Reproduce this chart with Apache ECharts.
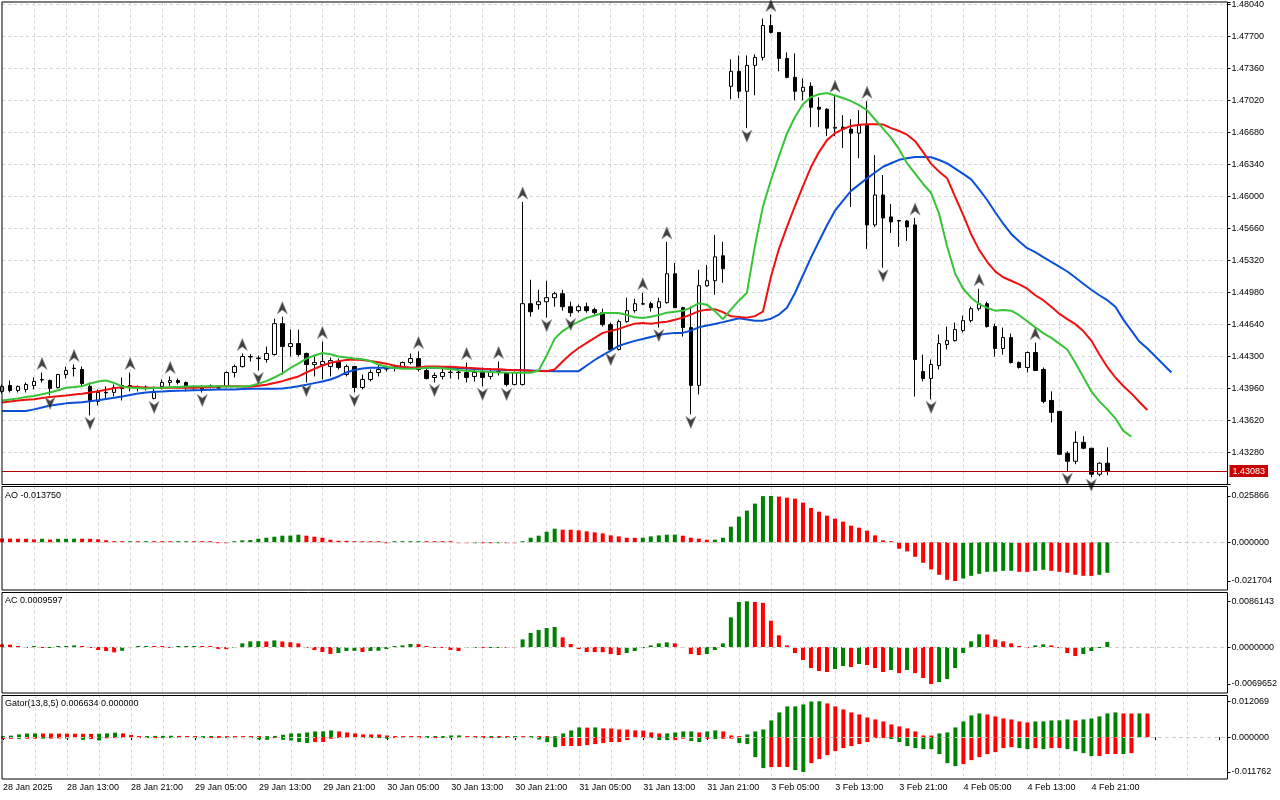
<!DOCTYPE html>
<html><head><meta charset="utf-8">
<script src="https://cdn.jsdelivr.net/npm/echarts@6/dist/echarts.min.js"></script>
<style>html,body{margin:0;padding:0;background:#fff}#c{width:1280px;height:800px}</style>
</head><body><div id="c"></div>
<script>
// ---------- tick labels (every 8 bars) ----------
const xLabels = ['28 Jan 2025','28 Jan 13:00','28 Jan 21:00','29 Jan 05:00','29 Jan 13:00','29 Jan 21:00','30 Jan 05:00','30 Jan 13:00','30 Jan 21:00','31 Jan 05:00','31 Jan 13:00','31 Jan 21:00','3 Feb 05:00','3 Feb 13:00','3 Feb 21:00','4 Feb 05:00','4 Feb 13:00','4 Feb 21:00'];
const slotCount = 154;

// ---------- H1 candles ----------
const open = [1.43929,1.43992,1.43939,1.43950,1.43992,1.44050,1.44045,1.43971,1.44109,1.44172,
1.44162,1.43982,1.43823,1.43913,1.43918,1.43992,1.43992,1.43971,1.43976,1.43855,
1.43982,1.44024,1.44045,1.44024,1.43976,1.43971,1.43982,1.43966,1.43982,1.44130,
1.44193,1.44300,1.44278,1.44268,1.44321,1.44649,1.44406,1.44437,1.44332,1.44215,
1.44215,1.44194,1.44247,1.44109,1.44193,1.43971,1.44056,1.44130,1.44172,1.44183,
1.44193,1.44236,1.44278,1.44151,1.44077,1.44088,1.44130,1.44134,1.44130,1.44088,
1.44130,1.44088,1.44136,1.44120,1.44003,1.44003,1.44861,1.44851,1.44882,1.44925,
1.44967,1.44829,1.44787,1.44829,1.44798,1.44766,1.44639,1.44374,1.44671,1.44787,
1.44856,1.44861,1.44819,1.44872,1.45179,1.44819,1.44607,1.43993,1.45052,1.45105,
1.45370,1.47171,1.47330,1.47118,1.47393,1.47478,1.47817,1.47743,1.47467,1.47266,
1.47118,1.47171,1.46948,1.46927,1.46726,1.46736,1.46715,1.46673,1.46758,1.45698,
1.46016,1.45783,1.45744,1.45740,1.45698,1.44141,1.44066,1.44204,1.44427,1.44469,
1.44575,1.44681,1.44808,1.44861,1.44618,1.44385,1.44501,1.44236,1.44183,1.44342,
1.44162,1.43833,1.43717,1.43272,1.43187,1.43388,1.43325,1.43049,1.43166];
const close = [1.43982,1.43939,1.43982,1.44003,1.44035,1.44056,1.43960,1.44109,1.44151,1.44175,
1.44013,1.43833,1.43918,1.43918,1.43971,1.43960,1.43971,1.43975,1.43960,1.43918,
1.44024,1.44045,1.44024,1.43982,1.43971,1.43950,1.43987,1.43971,1.44130,1.44193,
1.44300,1.44295,1.44284,1.44332,1.44649,1.44406,1.44437,1.44321,1.44215,1.44236,
1.44247,1.44257,1.44183,1.44193,1.43971,1.44056,1.44130,1.44162,1.44167,1.44186,
1.44236,1.44278,1.44162,1.44067,1.44098,1.44130,1.44134,1.44130,1.44077,1.44130,
1.44077,1.44130,1.44141,1.44003,1.44130,1.44861,1.44776,1.44882,1.44925,1.44967,
1.44829,1.44766,1.44829,1.44787,1.44766,1.44639,1.44374,1.44671,1.44787,1.44861,
1.44861,1.44819,1.44882,1.45179,1.44819,1.44607,1.43993,1.45052,1.45105,1.45359,
1.45232,1.47330,1.47118,1.47393,1.47478,1.47817,1.47743,1.47467,1.47266,1.47118,
1.47160,1.46948,1.46927,1.46726,1.46736,1.46715,1.46673,1.46758,1.45698,1.46016,
1.45772,1.45730,1.45740,1.45677,1.44268,1.44066,1.44215,1.44437,1.44469,1.44586,
1.44681,1.44808,1.44861,1.44618,1.44385,1.44501,1.44236,1.44183,1.44342,1.44151,
1.43823,1.43706,1.43261,1.43187,1.43388,1.43325,1.43049,1.43166,1.43083];
const low = [1.43908,1.43918,1.43918,1.43918,1.43950,1.44024,1.43887,1.43960,1.44066,1.44088,
1.43982,1.43674,1.43780,1.43855,1.43876,1.43833,1.43929,1.43929,1.43939,1.43844,
1.43950,1.43982,1.44003,1.43929,1.43939,1.43918,1.43960,1.43950,1.43971,1.44077,
1.44183,1.44247,1.44151,1.44236,1.44310,1.44109,1.44300,1.44300,1.44024,1.44088,
1.44056,1.44088,1.44162,1.44088,1.43918,1.43950,1.44035,1.44088,1.44141,1.44141,
1.44183,1.44215,1.44141,1.44056,1.44024,1.44056,1.44066,1.44056,1.44024,1.44035,
1.43982,1.44056,1.44098,1.43982,1.43992,1.43992,1.44724,1.44798,1.44713,1.44829,
1.44787,1.44724,1.44766,1.44766,1.44745,1.44618,1.44353,1.44364,1.44660,1.44766,
1.44851,1.44776,1.44607,1.44861,1.44819,1.44512,1.43685,1.43897,1.45041,1.44956,
1.45083,1.47033,1.47044,1.46726,1.47075,1.47446,1.47732,1.47330,1.47256,1.47023,
1.47023,1.46737,1.46737,1.46641,1.46641,1.46514,1.45889,1.46408,1.45444,1.45677,
1.45243,1.45613,1.45465,1.45528,1.43875,1.44035,1.43844,1.44162,1.44374,1.44459,
1.44554,1.44660,1.44787,1.44607,1.44300,1.44321,1.44225,1.44172,1.44130,1.44151,
1.43802,1.43600,1.43261,1.43081,1.43155,1.43314,1.43018,1.43028,1.43039];
const high = [1.44003,1.44045,1.43992,1.44024,1.44077,1.44130,1.44056,1.44114,1.44193,1.44215,
1.44193,1.44024,1.43950,1.43982,1.44003,1.44077,1.44130,1.43992,1.43992,1.43982,
1.44056,1.44088,1.44066,1.44035,1.43992,1.43992,1.44003,1.43992,1.44141,1.44215,
1.44332,1.44327,1.44310,1.44406,1.44702,1.44723,1.44586,1.44586,1.44342,1.44300,
1.44459,1.44289,1.44278,1.44215,1.44193,1.44109,1.44162,1.44215,1.44204,1.44215,
1.44247,1.44332,1.44353,1.44193,1.44130,1.44183,1.44183,1.44183,1.44236,1.44162,
1.44183,1.44162,1.44247,1.44130,1.44141,1.45942,1.45115,1.45009,1.45105,1.44988,
1.45009,1.44882,1.44851,1.44872,1.44819,1.44808,1.44660,1.44692,1.44925,1.44914,
1.44978,1.44882,1.44925,1.45518,1.45295,1.44829,1.44829,1.45221,1.45274,1.45592,
1.45518,1.47457,1.47499,1.47499,1.47510,1.47891,1.47934,1.47743,1.47531,1.47520,
1.47256,1.47213,1.47054,1.46938,1.47075,1.46864,1.46821,1.46917,1.47012,1.46440,
1.46228,1.45921,1.45751,1.45751,1.45772,1.44321,1.44268,1.44533,1.44618,1.44660,
1.44734,1.44829,1.45020,1.44882,1.44649,1.44607,1.44543,1.44247,1.44353,1.44448,
1.44183,1.43929,1.43717,1.43293,1.43505,1.43452,1.43325,1.43176,1.43335];
const lastPrice = 1.43083;

// ---------- Alligator (already shifted: jaw +8, teeth +5, lips +3) ----------
const jaw = [1.43720,1.43720,1.43720,1.43720,1.43738,1.43759,1.43780,1.43791,1.43802,1.43809,
1.43815,1.43825,1.43836,1.43849,1.43862,1.43876,1.43892,1.43908,1.43918,1.43925,
1.43929,1.43934,1.43937,1.43939,1.43942,1.43944,1.43947,1.43950,1.43950,1.43950,
1.43954,1.43957,1.43957,1.43957,1.43958,1.43960,1.43971,1.43984,1.43999,1.44017,
1.44035,1.44056,1.44088,1.44130,1.44157,1.44172,1.44180,1.44180,1.44180,1.44180,
1.44180,1.44180,1.44180,1.44180,1.44180,1.44180,1.44180,1.44177,1.44172,1.44168,
1.44164,1.44161,1.44159,1.44157,1.44156,1.44154,1.44151,1.44148,1.44145,1.44144,
1.44144,1.44144,1.44144,1.44204,1.44263,1.44315,1.44363,1.44413,1.44441,1.44466,
1.44485,1.44508,1.44527,1.44543,1.44551,1.44551,1.44575,1.44610,1.44630,1.44646,
1.44665,1.44686,1.44707,1.44692,1.44681,1.44681,1.44702,1.44745,1.44819,1.44975,
1.45163,1.45351,1.45525,1.45695,1.45849,1.45957,1.46060,1.46126,1.46193,1.46255,
1.46316,1.46353,1.46390,1.46406,1.46419,1.46420,1.46417,1.46388,1.46352,1.46297,
1.46241,1.46182,1.46076,1.45963,1.45833,1.45711,1.45602,1.45521,1.45451,1.45408,
1.45356,1.45306,1.45255,1.45203,1.45139,1.45073,1.45009,1.44951,1.44898,1.44829,
1.44692,1.44575,1.44459,1.44385,1.44300,1.44215,1.44130];
const teeth = [1.43812,1.43823,1.43833,1.43841,1.43847,1.43858,1.43869,1.43878,1.43886,1.43895,
1.43904,1.43918,1.43931,1.43947,1.43964,1.43973,1.43979,1.43976,1.43969,1.43968,
1.43968,1.43968,1.43968,1.43968,1.43968,1.43971,1.43976,1.43980,1.43983,1.43984,
1.43982,1.43979,1.43989,1.44000,1.44019,1.44038,1.44063,1.44088,1.44130,1.44169,
1.44204,1.44233,1.44250,1.44264,1.44268,1.44263,1.44252,1.44240,1.44224,1.44202,
1.44190,1.44181,1.44183,1.44194,1.44194,1.44192,1.44191,1.44185,1.44180,1.44176,
1.44171,1.44167,1.44164,1.44160,1.44157,1.44153,1.44149,1.44146,1.44144,1.44162,
1.44247,1.44326,1.44390,1.44445,1.44498,1.44551,1.44572,1.44593,1.44623,1.44649,
1.44655,1.44649,1.44660,1.44670,1.44690,1.44713,1.44745,1.44782,1.44798,1.44803,
1.44771,1.44727,1.44721,1.44713,1.44729,1.44776,1.45147,1.45444,1.45677,1.45899,
1.46111,1.46313,1.46472,1.46599,1.46673,1.46717,1.46750,1.46763,1.46768,1.46768,
1.46766,1.46726,1.46696,1.46657,1.46588,1.46472,1.46347,1.46264,1.46193,1.45997,
1.45804,1.45597,1.45433,1.45306,1.45205,1.45142,1.45105,1.45067,1.45020,1.44951,
1.44898,1.44829,1.44755,1.44697,1.44644,1.44570,1.44469,1.44321,1.44188,1.44077,
1.43987,1.43908,1.43817,1.43731];
const lips = [1.43833,1.43844,1.43855,1.43869,1.43881,1.43899,1.43918,1.43941,1.43968,1.43976,
1.43985,1.44013,1.44035,1.44045,1.44019,1.43982,1.43969,1.43965,1.43960,1.43965,
1.43967,1.43973,1.43977,1.43981,1.43984,1.43985,1.43985,1.43985,1.43982,1.43980,
1.43982,1.43987,1.44011,1.44038,1.44077,1.44120,1.44178,1.44225,1.44278,1.44310,
1.44337,1.44323,1.44300,1.44289,1.44278,1.44272,1.44252,1.44215,1.44191,1.44177,
1.44169,1.44169,1.44172,1.44180,1.44180,1.44176,1.44164,1.44156,1.44149,1.44144,
1.44140,1.44134,1.44131,1.44129,1.44128,1.44127,1.44127,1.44151,1.44310,1.44490,
1.44570,1.44625,1.44670,1.44710,1.44736,1.44763,1.44763,1.44763,1.44741,1.44716,
1.44710,1.44723,1.44741,1.44766,1.44776,1.44785,1.44819,1.44866,1.44851,1.44782,
1.44697,1.44798,1.44893,1.44978,1.45476,1.45892,1.46175,1.46427,1.46670,1.46845,
1.46980,1.47056,1.47086,1.47100,1.47073,1.47046,1.47014,1.46970,1.46917,1.46818,
1.46721,1.46623,1.46503,1.46352,1.46244,1.46133,1.46037,1.45815,1.45468,1.45179,
1.45020,1.44925,1.44856,1.44817,1.44787,1.44794,1.44787,1.44739,1.44674,1.44609,
1.44549,1.44498,1.44437,1.44374,1.44233,1.44082,1.43929,1.43823,1.43738,1.43643,
1.43510,1.43447];

// ---------- Fractals (bar indices) ----------
const upFractals = [5,9,16,21,30,35,40,52,58,62,65,80,83,96,104,108,114,122,129];
const downFractals = [6,11,19,25,32,38,44,54,60,63,68,71,76,82,86,93,110,116,133,136];

// ---------- Awesome Oscillator ----------
const ao = [0.00205,0.00198,0.00194,0.00190,0.00160,0.00192,0.00150,0.00190,0.00194,0.00198,
0.00196,0.00192,0.00165,0.00110,0.00060,0.00040,0.00045,0.00040,0.00042,0.00035,
0.00030,0.00025,0.00030,0.00032,0.00028,0.00020,0.00010,-0.00010,-0.00012,0.00010,
0.00103,0.00122,0.00196,0.00252,0.00309,0.00365,0.00370,0.00421,0.00365,0.00309,
0.00252,0.00140,0.00084,0.00080,0.00028,0.00012,0.00006,0.00002,-0.00003,0.00004,
0.00012,0.00018,0.00022,0.00016,0.00008,0.00004,0.00000,-0.00010,-0.00025,-0.00020,
-0.00025,-0.00030,-0.00025,-0.00030,-0.00045,0.00047,0.00252,0.00365,0.00589,0.00757,
0.00701,0.00698,0.00664,0.00608,0.00552,0.00496,0.00383,0.00327,0.00252,0.00248,
0.00253,0.00327,0.00383,0.00421,0.00423,0.00365,0.00252,0.00196,0.00140,0.00143,
0.00252,0.00870,0.01431,0.01767,0.02160,0.02580,0.025866,0.02550,0.02492,0.02437,
0.02216,0.01917,0.01711,0.01487,0.01318,0.01150,0.00926,0.00813,0.00645,0.00383,
0.00103,0.00010,-0.00365,-0.00514,-0.00813,-0.01150,-0.01524,-0.01823,-0.02104,-0.021704,
-0.02029,-0.01879,-0.01767,-0.01655,-0.01650,-0.01599,-0.01595,-0.01655,-0.01660,-0.01600,
-0.01543,-0.01599,-0.01655,-0.01711,-0.01823,-0.01879,-0.01885,-0.01823,-0.01711];

// ---------- Accelerator Oscillator ----------
const ac = [0.00050,0.00045,0.00006,-0.00002,0.00000,-0.00003,-0.00001,0.00004,0.00015,0.00030,
0.00010,-0.00005,-0.00055,-0.00075,-0.00100,-0.00070,-0.00005,0.00010,0.00012,0.00005,
0.00000,-0.00005,0.00000,0.00005,0.00010,0.00005,0.00000,-0.00035,-0.00040,-0.00002,
0.00070,0.00107,0.00110,0.00105,0.00125,0.00105,0.00090,0.00069,-0.00003,-0.00057,
-0.00094,-0.00132,-0.00113,-0.00075,-0.00072,-0.00094,-0.00075,-0.00070,-0.00038,0.00000,
0.00031,0.00057,0.00055,0.00013,-0.00006,-0.00019,-0.00057,-0.00075,-0.00019,-0.00006,
-0.00010,-0.00004,-0.00001,-0.00005,-0.00008,0.00144,0.00264,0.00320,0.00358,0.00377,
0.00182,0.00057,-0.00038,-0.00094,-0.00096,-0.00098,-0.00132,-0.00151,-0.00113,-0.00075,
-0.00019,0.00031,0.00069,0.00088,0.00069,-0.00019,-0.00132,-0.00151,-0.00132,-0.00057,
0.00069,0.00559,0.00848,0.0086143,0.00850,0.00832,0.00496,0.00220,0.00031,-0.00113,
-0.00245,-0.00396,-0.00452,-0.00471,-0.00414,-0.00358,-0.00377,-0.00320,-0.00339,-0.00396,
-0.00471,-0.00433,-0.00490,-0.00433,-0.00492,-0.00584,-0.0069652,-0.00660,-0.00603,-0.00396,
-0.00113,0.00107,0.00239,0.00235,0.00144,0.00107,0.00069,0.00000,-0.00003,0.00031,
0.00050,0.00031,-0.00006,-0.00113,-0.00170,-0.00132,-0.00075,-0.00006,0.0009597];

// ---------- Gator Oscillator ----------
const gatorUp = [0.00030,0.00050,0.00090,0.00120,0.00125,0.00122,0.00120,0.00118,0.00116,0.00114,
0.00112,0.00108,0.00112,0.00125,0.00150,0.00125,0.00070,0.00030,0.00035,0.00040,
0.00042,0.00045,0.00040,0.00035,0.00030,0.00032,0.00035,0.00030,0.00025,0.00020,
0.00012,0.00006,0.00003,0.00010,0.00040,0.00080,0.00124,0.00126,0.00157,0.00191,
0.00193,0.00225,0.00191,0.00157,0.00124,0.00092,0.00090,0.00088,0.00056,0.00024,
0.00022,0.00020,0.00018,0.00020,0.00022,0.00024,0.00056,0.00058,0.00024,0.00022,
0.00020,0.00022,0.00020,0.00018,0.00020,0.00018,0.00020,0.00015,0.00005,0.00020,
0.00124,0.00225,0.00326,0.00320,0.00326,0.00292,0.00290,0.00259,0.00255,0.00225,
0.00222,0.00157,0.00124,0.00126,0.00157,0.00191,0.00193,0.00157,0.00191,0.00225,
0.00191,0.00056,0.00022,0.00090,0.00191,0.00259,0.00562,0.00832,0.01034,0.01036,
0.01102,0.01200,0.012069,0.01135,0.01034,0.00933,0.00832,0.00764,0.00663,0.00596,
0.00528,0.00427,0.00360,0.00292,0.00191,0.00056,0.00054,0.00124,0.00157,0.00326,
0.00528,0.00731,0.00798,0.00764,0.00697,0.00629,0.00596,0.00528,0.00495,0.00528,
0.00530,0.00562,0.00564,0.00596,0.00562,0.00596,0.00629,0.00697,0.00798,0.00832,
0.00798,0.00796,0.00798,0.00796];
const gatorDown = [-0.00060,-0.00055,-0.00058,-0.00052,-0.00050,-0.00052,-0.00050,-0.00045,-0.00048,-0.00030,
-0.00090,-0.00060,-0.00110,-0.00040,-0.00010,-0.00005,-0.00010,-0.00008,-0.00012,-0.00010,
-0.00012,-0.00015,-0.00012,-0.00010,-0.00012,-0.00014,-0.00012,-0.00010,-0.00012,-0.00015,
-0.00020,-0.00030,-0.00080,-0.00090,-0.00030,-0.00090,-0.00112,-0.00169,-0.00202,-0.00169,
-0.00165,-0.00056,-0.00022,-0.00010,-0.00005,-0.00008,-0.00012,-0.00022,-0.00056,-0.00030,
-0.00020,-0.00015,-0.00010,-0.00012,-0.00010,-0.00012,-0.00015,-0.00012,-0.00010,-0.00012,
-0.00010,-0.00008,-0.00010,-0.00012,-0.00010,-0.00015,-0.00030,-0.00080,-0.00169,-0.00337,
-0.00303,-0.00300,-0.00298,-0.00270,-0.00236,-0.00202,-0.00169,-0.00167,-0.00101,-0.00030,
-0.00010,-0.00022,-0.00101,-0.00103,-0.00101,-0.00056,-0.00135,-0.00169,-0.00056,-0.00067,
-0.00056,-0.00054,-0.00202,-0.00236,-0.00674,-0.01045,-0.01012,-0.01010,-0.01008,-0.01113,
-0.011762,-0.00877,-0.00742,-0.00607,-0.00472,-0.00371,-0.00303,-0.00236,-0.00169,-0.00030,
-0.00020,-0.00067,-0.00169,-0.00303,-0.00371,-0.00405,-0.00407,-0.00573,-0.00877,-0.00978,
-0.00910,-0.00776,-0.00674,-0.00573,-0.00506,-0.00371,-0.00337,-0.00371,-0.00405,-0.00371,
-0.00405,-0.00371,-0.00369,-0.00405,-0.00472,-0.00540,-0.00641,-0.00639,-0.00573,-0.00571,
-0.00573,-0.00540];

const aoTitle = 'AO -0.013750';
const acTitle = 'AC 0.0009597';
const gatorTitle = 'Gator(13,8,5) 0.006634 0.000000';

// ---------- styling / layout ----------
const FONT = 'Liberation Sans, Arial, sans-serif';
const GREEN = '#008000', RED = '#ff0000';
const GRID_COLOR = '#d6d6d6';
const PRICE_BASE = 1.42940, PRICE_TOP = 1.48060, PRICE_STEP = 0.0034;

function trendColors(arr, first, useAbs) {
  const out = []; let c = first;
  for (let i = 0; i < arr.length; i++) {
    if (i > 0) {
      const a = useAbs ? Math.abs(arr[i]) : arr[i];
      const b = useAbs ? Math.abs(arr[i-1]) : arr[i-1];
      if (a > b) c = GREEN; else if (a < b) c = RED;
    }
    out.push(c);
  }
  return out;
}
function coloredBars(arr, first, useAbs) {
  const cols = trendColors(arr, first, useAbs);
  return arr.map((v, i) => ({ value: v, itemStyle: { color: cols[i] } }));
}

const cats = Array.from({ length: slotCount }, (_, i) => String(i));
const candleData = open.map((o, i) => [o, close[i], low[i], high[i]]);

const gridL = 2, gridW = 1225.5;
const gridRects = [
  { left: gridL, top: 2, width: gridW, height: 482.5 },
  { left: gridL, top: 486.5, width: gridW, height: 103.5 },
  { left: gridL, top: 592.5, width: gridW, height: 100.5 },
  { left: gridL, top: 695.5, width: gridW, height: 83.5 }
];
const grids = gridRects.map(g => Object.assign({}, g, { show: false, containLabel: false }));
// solid black panel frames drawn on top of the dashed grid lines
const frames = gridRects.map(g => ({
  type: 'rect', silent: true, z: 50,
  shape: { x: g.left, y: g.top, width: g.width, height: g.height },
  style: { fill: 'none', stroke: '#000', lineWidth: 1 }
}));

function xAxisFor(gi, bottom) {
  return {
    type: 'category', gridIndex: gi, data: cats, boundaryGap: false,
    axisLine: { show: false },
    axisTick: bottom ? { show: true, interval: 7, length: 3, lineStyle: { color: '#000' } } : { show: false },
    axisLabel: bottom ? {
      show: true, interval: 7, align: 'left', margin: 4, color: '#000', fontSize: 9, fontFamily: FONT,
      formatter: (v, idx) => (idx % 8 === 0 && xLabels[idx / 8]) ? xLabels[idx / 8] : ''
    } : { show: false },
    splitLine: { show: true, interval: 3, showMinLine: false, showMaxLine: false,
      lineStyle: { color: GRID_COLOR, type: [3, 3], width: 1 } }
  };
}

const aoMax = Math.max(...ao), aoMin = Math.min(...ao);
const acMax = Math.max(...ac), acMin = Math.min(...ac);
const gMax = Math.max(...gatorUp), gMin = Math.min(...gatorDown);

function indAxis(gi, min, max, vals, digits) {
  return {
    type: 'value', gridIndex: gi, position: 'right', min: min, max: max,
    axisLine: { show: false },
    axisTick: { show: true, length: 3, customValues: vals, lineStyle: { color: '#000' } },
    axisLabel: { show: true, customValues: vals, margin: 4, color: '#000', fontSize: 9, fontFamily: FONT,
      formatter: v => Number(v).toFixed(digits) },
    splitLine: { show: false }
  };
}

const zeroLine = {
  silent: true, symbol: ['none', 'none'], label: { show: false }, precision: 8,
  lineStyle: { color: '#cfcfcf', type: [4, 3], width: 1 }, data: [{ yAxis: 0 }], animation: false
};

const upArrow = 'path://M6,0 L12,13 L6,9 L0,13 Z';
const downArrow = 'path://M0,0 L6,4 L12,0 L6,13 Z';

const option = {
  animation: false,
  backgroundColor: '#fff',
  textStyle: { fontFamily: FONT },
  title: [
    { text: aoTitle, left: 5, top: 491, padding: 0, textStyle: { fontSize: 9, fontWeight: 'normal', color: '#000', fontFamily: FONT } },
    { text: acTitle, left: 5, top: 596, padding: 0, textStyle: { fontSize: 9, fontWeight: 'normal', color: '#000', fontFamily: FONT } },
    { text: gatorTitle, left: 5, top: 699, padding: 0, textStyle: { fontSize: 9, fontWeight: 'normal', color: '#000', fontFamily: FONT } }
  ],
  graphic: frames,
  grid: grids,
  xAxis: [xAxisFor(0, false), xAxisFor(1, false), xAxisFor(2, false), xAxisFor(3, true)],
  yAxis: [
    { type: 'value', gridIndex: 0, position: 'left', min: PRICE_BASE, max: PRICE_TOP, show: false },
    { type: 'value', gridIndex: 0, position: 'right', min: 0, max: PRICE_TOP - PRICE_BASE, interval: PRICE_STEP,
      axisLine: { show: false },
      axisTick: { show: true, length: 3, lineStyle: { color: '#000' } },
      axisLabel: { show: true, margin: 4, color: '#000', fontSize: 9, fontFamily: FONT,
        formatter: v => {
          const k = Math.round(v / PRICE_STEP);
          if (k < 1 || Math.abs(v - k * PRICE_STEP) > 1e-7) return '';
          return (PRICE_BASE + k * PRICE_STEP).toFixed(5);
        } },
      splitLine: { show: true, showMinLine: false, showMaxLine: false,
        lineStyle: { color: GRID_COLOR, type: [3, 3], width: 1 } }
    },
    indAxis(1, -0.026740, 0.031182, [aoMax, 0, aoMin], 6),
    indAxis(2, -0.008661, 0.010272, [acMax, 0, acMin], 7),
    indAxis(3, -0.014121, 0.014024, [gMax, 0, gMin], 6),
    // last-price tag on the price scale
    { type: 'value', gridIndex: 0, position: 'right', offset: 0, min: PRICE_BASE, max: PRICE_TOP,
      axisLine: { show: false }, axisTick: { show: false }, splitLine: { show: false },
      axisLabel: { show: true, customValues: [lastPrice], margin: 2, color: '#fff', fontSize: 9, fontFamily: FONT,
        backgroundColor: '#c80000', padding: [2, 3, 1, 3], formatter: v => Number(v).toFixed(5) } }
  ],
  series: [
    {
      name: 'Price', type: 'candlestick', xAxisIndex: 0, yAxisIndex: 0, data: candleData, barWidth: 4,
      itemStyle: { color: '#ffffff', color0: '#000000', borderColor: '#000000', borderColor0: '#000000', borderWidth: 1 },
      markLine: {
        silent: true, symbol: ['none', 'none'], animation: false, precision: 5,
        lineStyle: { color: '#b00000', width: 1, type: 'solid' },
        label: { show: false },
        data: [{ yAxis: lastPrice }]
      }
    },
    { name: 'Jaws', type: 'line', xAxisIndex: 0, yAxisIndex: 0, data: jaw, showSymbol: false, symbol: 'none',
      lineStyle: { color: '#0a4fd8', width: 2 }, z: 3 },
    { name: 'Teeth', type: 'line', xAxisIndex: 0, yAxisIndex: 0, data: teeth, showSymbol: false, symbol: 'none',
      lineStyle: { color: '#f01010', width: 2 }, z: 3 },
    { name: 'Lips', type: 'line', xAxisIndex: 0, yAxisIndex: 0, data: lips, showSymbol: false, symbol: 'none',
      lineStyle: { color: '#38c438', width: 2 }, z: 3 },
    { name: 'Fractal up', type: 'scatter', xAxisIndex: 0, yAxisIndex: 0,
      data: upFractals.map(i => [i, high[i]]), symbol: upArrow, symbolSize: [10, 12], symbolOffset: [0, -9],
      itemStyle: { color: '#111111', borderColor: '#8c8c8c', borderWidth: 0.8 }, z: 4 },
    { name: 'Fractal down', type: 'scatter', xAxisIndex: 0, yAxisIndex: 0,
      data: downFractals.map(i => [i, low[i]]), symbol: downArrow, symbolSize: [10, 12], symbolOffset: [0, 8],
      itemStyle: { color: '#111111', borderColor: '#8c8c8c', borderWidth: 0.8 }, z: 4 },
    { name: 'AO', type: 'bar', xAxisIndex: 1, yAxisIndex: 2, data: coloredBars(ao, RED, false),
      barWidth: 4, barMinHeight: 1, markLine: zeroLine },
    { name: 'AC', type: 'bar', xAxisIndex: 2, yAxisIndex: 3, data: coloredBars(ac, RED, false),
      barWidth: 4, barMinHeight: 1, markLine: zeroLine },
    { name: 'Gator up', type: 'bar', xAxisIndex: 3, yAxisIndex: 4, data: coloredBars(gatorUp, GREEN, false),
      barWidth: 4, barGap: '-100%', barMinHeight: 1, markLine: zeroLine },
    { name: 'Gator down', type: 'bar', xAxisIndex: 3, yAxisIndex: 4, data: coloredBars(gatorDown, RED, true),
      barWidth: 4, barGap: '-100%', barMinHeight: 1 }
  ]
};

const chart = echarts.init(document.getElementById('c'), null, { renderer: 'canvas' });
chart.setOption(option);
</script>
</body></html>
